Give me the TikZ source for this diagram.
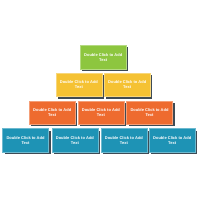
\documentclass[tikz,border=0pt]{standalone}
\usepackage{fontspec}
\setmainfont{Liberation Sans}
\usetikzlibrary{shadows}
\definecolor{cgreen}{HTML}{8DC63F}
\definecolor{cyellow}{HTML}{F5C233}
\definecolor{corange}{HTML}{EE6B2F}
\definecolor{cblue}{HTML}{1E93B5}
\definecolor{cshadow}{HTML}{3E4B55}
\begin{document}
\begin{tikzpicture}[x=1pt,y=-1pt,
  pbox/.style={rectangle, anchor=north west, minimum width=46pt, minimum height=23.5pt,
    inner sep=0pt, fill=#1, draw=white!35!#1, line width=0.4pt,
    text=white, font=\fontsize{4}{5.2}\selectfont\bfseries, align=center,
    drop shadow={shadow xshift=2pt, shadow yshift=-2pt, fill=cshadow, opacity=1}}]
\useasboundingbox (0,0) rectangle (200,200);
\def\T{Double Click to Add\\Text}
\node[pbox=cgreen] (g1) at (80,45.3) {\T};
\node[pbox=cyellow] (y1) at (55.7,73) {\T};
\node[pbox=cyellow] (y2) at (104,73) {\T};
\node[pbox=corange] (o1) at (29,100.7) {\T};
\node[pbox=corange] (o2) at (77.7,100.7) {\T};
\node[pbox=corange] (o3) at (126.3,100.7) {\T};
\node[pbox=cblue] (b1) at (2.3,128.3) {\T};
\node[pbox=cblue] (b2) at (51.7,128.3) {\T};
\node[pbox=cblue] (b3) at (100.7,128.3) {\T};
\node[pbox=cblue] (b4) at (149,128.3) {\T};
\end{tikzpicture}
\end{document}
